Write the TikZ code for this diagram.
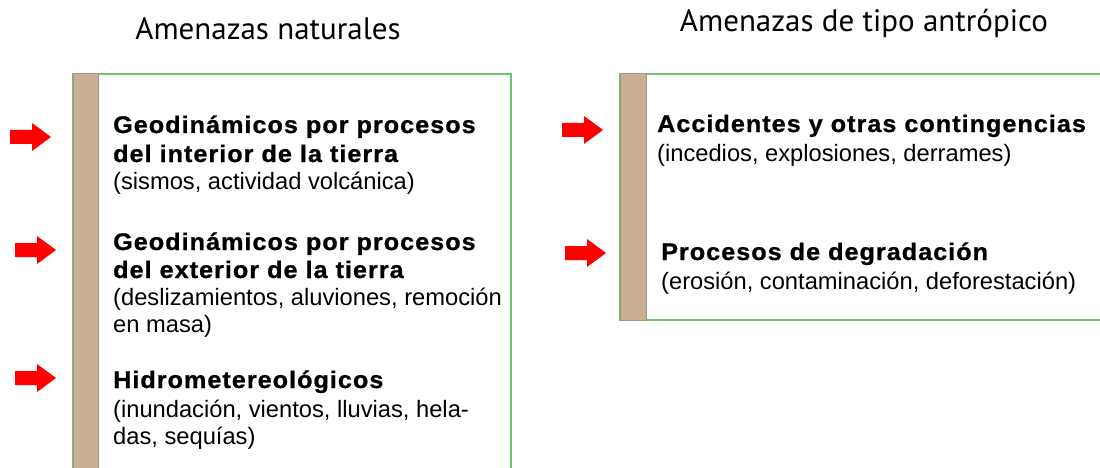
\documentclass[tikz,border=0pt]{standalone}
\usepackage{fontspec}
\setmainfont{Liberation Sans}
\newfontfamily\titlefont{PT Sans}
\newfontfamily\headfont[FakeStretch=1.05,LetterSpace=4.2,FakeBold=0.9]{Liberation Sans Bold}
\definecolor{framegreen}{HTML}{6CC46E}
\definecolor{barfill}{HTML}{C8AF96}
\definecolor{baredge}{HTML}{A39484}
\definecolor{arrred}{HTML}{FF0000}
\tikzset{
  ttl/.style={anchor=base, inner sep=0pt, font=\titlefont\fontsize{31}{32}\selectfont},
  hd/.style={anchor=base west, inner sep=0pt, font=\headfont\fontsize{24}{28}\selectfont},
  sub/.style={anchor=base west, inner sep=0pt, font=\fontsize{23.7}{27}\selectfont},
  barbox/.style={fill=barfill, draw=baredge, line width=1pt},
  framebox/.style={draw=framegreen, line width=1.6pt},
  redarrow/.pic={\fill[arrred] (0,-7) -- (22,-7) -- (22,-14) -- (41,0) -- (22,14) -- (22,7) -- (0,7) -- cycle;}
}
\begin{document}
\begin{tikzpicture}[x=1pt,y=-1pt]
\clip (0,0) rectangle (1100,468);
\fill[white] (0,0) rectangle (1100,468);
% titles
\node[ttl] (t1) at (268,40) {Amenazas naturales};
\node[ttl] (t2) at (864,32) {Amenazas de tipo antrópico};
% left box
\draw[framebox] (73,74) rectangle (511,500);
\draw[barbox] (73,74) rectangle (98,500);
% right box
\draw[framebox] (620,74) rectangle (1130,320);
\draw[barbox] (620,74) rectangle (646,320);
% arrows
\pic at (10,137) {redarrow};
\pic at (15,250) {redarrow};
\pic at (15,378) {redarrow};
\pic at (562,130) {redarrow};
\pic at (565,253) {redarrow};
% left text
\node[hd] (g1a) at (113,133) {Geodinámicos por procesos};
\node[hd] (g1b) at (113,162) {del interior de la tierra};
\node[sub] (g1c) at (113,189) {(sismos, actividad volcánica)};
\node[hd] (g2a) at (113,250) {Geodinámicos por procesos};
\node[hd] (g2b) at (113,278) {del exterior de la tierra};
\node[sub] (g2c) at (113,305) {(deslizamientos, aluviones, remoción};
\node[sub] (g2d) at (113,332) {en masa)};
\node[hd] (h1) at (113,388) {Hidrometereológicos};
\node[sub] (h2) at (113,417) {(inundación, vientos, lluvias, hela-};
\node[sub] (h3) at (113,444) {das, sequías)};
% right text
\node[hd] (a1) at (657,132) {Accidentes y otras contingencias};
\node[sub] (a2) at (657,161) {(incedios, explosiones, derrames)};
\node[hd] (p1) at (661,260) {Procesos de degradación};
\node[sub] (p2) at (661,289) {(erosión, contaminación, deforestación)};
\end{tikzpicture}
\end{document}
